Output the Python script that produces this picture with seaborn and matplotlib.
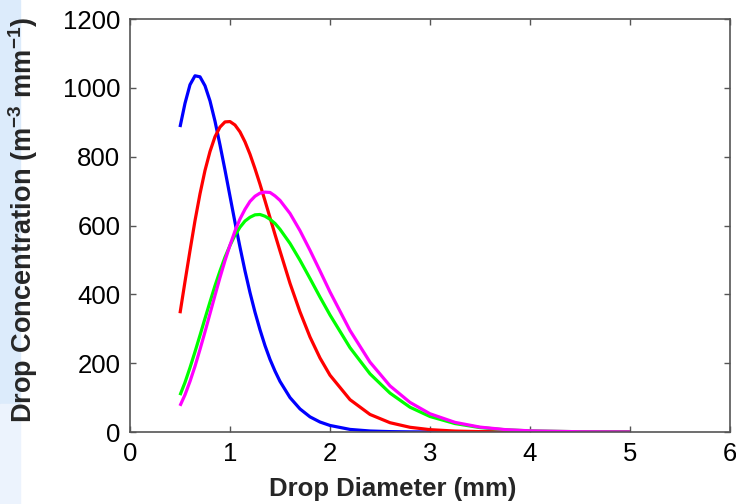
import matplotlib
matplotlib.use('Agg')
import matplotlib.pyplot as plt
from matplotlib.patches import Rectangle
import seaborn as sns
import pandas as pd

# drop diameter (mm)
diameter = [0.5, 0.55, 0.6, 0.65, 0.7, 0.75, 0.8, 0.85, 0.9, 0.95, 1.0, 1.05, 1.1,
            1.15, 1.2, 1.25, 1.3, 1.35, 1.4, 1.45, 1.5, 1.6, 1.7, 1.8, 1.9, 2.0,
            2.2, 2.4, 2.6, 2.8, 3.0, 3.25, 3.5, 3.75, 4.0, 4.5, 5.0]

# drop concentration (m^-3 mm^-1)
blue = [886, 955, 1009, 1035, 1032, 1006, 962, 903, 834, 761, 685, 609, 537,
        468, 405, 348, 297, 251, 211, 177, 147, 100, 67, 44, 29, 19,
        7.5, 2.9, 1.1, 0.4, 0.15, 0.05, 0.02, 0.01, 0, 0, 0]
red = [345, 437, 527, 614, 692, 760, 815, 858, 886, 901, 902, 892, 872,
       843, 807, 765, 720, 672, 623, 574, 526, 432, 349, 276, 215, 165,
       94, 51, 27, 13.7, 6.8, 2.7, 1.1, 0.45, 0.2, 0.03, 0]
green = [107, 144, 187, 233, 281, 330, 378, 425, 468, 508, 542, 572, 595,
         613, 624, 631, 632, 627, 618, 606, 589, 548, 499, 446, 392, 340,
         245, 169, 113, 72, 45, 24.5, 12.8, 6.5, 3.2, 0.75, 0.16]
magenta = [76, 108, 147, 191, 240, 291, 344, 397, 449, 498, 543, 584, 619,
           647, 670, 685, 694, 697, 696, 686, 673, 635, 585, 528, 468, 407,
           295, 203, 134, 86, 53, 28, 14.2, 7.0, 3.4, 0.72, 0.14]

series = {'blue': blue, 'red': red, 'green': green, 'magenta': magenta}
df = pd.concat([pd.DataFrame({'D': diameter, 'N': v, 'curve': k}) for k, v in series.items()])

sns.set_style('white')
plt.rcParams['font.family'] = ['Liberation Sans', 'DejaVu Sans']
plt.rcParams['mathtext.fontset'] = 'custom'
plt.rcParams['mathtext.rm'] = 'Liberation Sans:bold'
plt.rcParams['mathtext.default'] = 'rm'

fig = plt.figure(figsize=(7.36, 5.04), dpi=100)
# pale blue slide background at the left edge (kept under the axes)
fig.patches.append(Rectangle((0, 100 / 504), 20 / 736, 404 / 504, transform=fig.transFigure,
                             color='#dcebfb', zorder=-5))
fig.patches.append(Rectangle((0, 0), 20 / 736, 100 / 504, transform=fig.transFigure,
                             color='#ecf3fd', zorder=-5))
ax = fig.add_axes([130 / 736, 72 / 504, 600 / 736, 413 / 504])

pal = {'blue': '#0000ff', 'red': '#ff0000', 'green': '#00ff00', 'magenta': '#ff00ff'}
sns.lineplot(data=df, x='D', y='N', hue='curve', palette=pal, linewidth=2.3,
             legend=False, ax=ax)
for ln in ax.lines:
    ln.set_solid_joinstyle('round')
    ln.set_solid_capstyle('butt')

ax.set_xlim(0, 6)
ax.set_ylim(0, 1200)
ax.set_xticks(range(0, 7))
ax.set_yticks(range(0, 1201, 200))
ax.tick_params(direction='in', length=4, width=1.0, labelsize=18.5, colors='#555555',
               labelcolor='black', pad=7, bottom=True, left=True, top=True, right=True)
for s in ax.spines.values():
    s.set_color('#555555')
    s.set_linewidth(1.2)

ax.set_xlabel('Drop Diameter (mm)', fontsize=18.5, fontweight='bold')
ax.xaxis.set_label_coords(0.438, -0.108)
ax.set_ylabel('Drop Concentration (m$^{-3}$ mm$^{-1}$)', fontsize=19.5,
              fontweight='bold')
ax.yaxis.set_label_coords(-0.15, 0.513)

fig.savefig('out.png', dpi=100)
